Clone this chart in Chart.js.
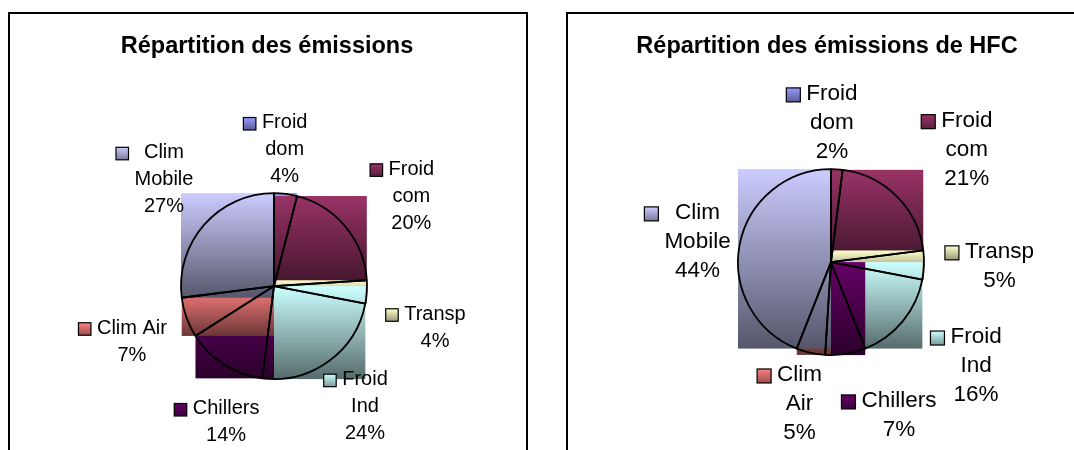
<!DOCTYPE html>
<html><head><meta charset="utf-8">
<script src="https://cdn.jsdelivr.net/npm/chart.js@4.4.1/dist/chart.umd.min.js"></script>
<style>
html,body{margin:0;padding:0;background:#fff;width:1074px;height:450px;overflow:hidden;position:relative;}
.frame{position:absolute;border:2px solid #000;box-sizing:border-box;}
#f1{left:8px;top:12px;width:520px;height:460px;}
#f2{left:566px;top:12px;width:520px;height:460px;}
canvas{position:absolute;}
#c1{left:10px;top:14px;}
#c2{left:568px;top:14px;}
</style></head><body>
<div class="frame" id="f1"></div><div class="frame" id="f2"></div>
<canvas id="c1" width="516" height="436"></canvas>
<canvas id="c2" width="506" height="436"></canvas>
<script>
// ---- data ----
const categories = ['Froid dom','Froid com','Transp','Froid Ind','Chillers','Clim Air','Clim Mobile'];
const emissionsAll = [4, 20, 4, 24, 14, 7, 27];
const emissionsHFC = [2, 21, 5, 16, 7, 5, 44];
const titleAll = 'Répartition des émissions';
const titleHFC = 'Répartition des émissions de HFC';

// ---- styles ----
const sliceColors = ['#9999FF','#993366','#FFFFCC','#CCFFFF','#660066','#FF8080','#CCCCFF'];
// label layout tweaks (pixels, relative to the automatic outside placement)
const labelNudgeAll = [[-16,10],[21,4],[5,33],[0,1],[23,23],[-9,10],[-10,-9]];
const labelNudgeHFC = [[-18,11],[25,-6],[7,0],[17,8],[25,19],[6,-5],[4,8]];

const FONT = '"Liberation Sans", Arial, sans-serif';

function shade(hex, f){
  const n = parseInt(hex.slice(1),16);
  const r=(n>>16)&255, g=(n>>8)&255, b=n&255;
  return 'rgb('+Math.round(r*f)+','+Math.round(g*f)+','+Math.round(b*f)+')';
}
function arcBBox(arc){
  const p = arc.getProps(['x','y','startAngle','endAngle','outerRadius'], true);
  const r = p.outerRadius;
  const pts = [[p.x,p.y],
    [p.x+r*Math.cos(p.startAngle), p.y+r*Math.sin(p.startAngle)],
    [p.x+r*Math.cos(p.endAngle), p.y+r*Math.sin(p.endAngle)]];
  for (let k=-4;k<=8;k++){
    const t = k*Math.PI/2;
    if (t>p.startAngle && t<p.endAngle) pts.push([p.x+r*Math.cos(t), p.y+r*Math.sin(t)]);
  }
  const xs = pts.map(q=>q[0]), ys = pts.map(q=>q[1]);
  return {x0:Math.min(...xs), x1:Math.max(...xs), y0:Math.min(...ys), y1:Math.max(...ys)};
}
const titleShift = {
  id:'titleShift',
  afterLayout(chart, args, o){
    const t = chart.titleBlock;
    if (t && o.dx){ t.left += o.dx; t.right += o.dx; }
  }
};
const bboxFill = {
  id:'bboxFill',
  beforeDatasetsDraw(chart, args, o){
    const ctx = chart.ctx;
    const meta = chart.getDatasetMeta(0);
    ctx.save();
    meta.data.forEach((arc,i)=>{
      const b = arcBBox(arc);
      const g = ctx.createLinearGradient(0,b.y0,0,b.y1);
      g.addColorStop(0, o.colors[i]);
      g.addColorStop(1, shade(o.colors[i], 0.42));
      ctx.fillStyle = g;
      ctx.fillRect(b.x0, b.y0, b.x1-b.x0, b.y1-b.y0);
    });
    ctx.restore();
  }
};
function wrap(ctx, text, maxW){
  const words = text.split(' '); const lines=[]; let cur='';
  for (const w of words){
    const t = cur ? cur+' '+w : w;
    if (cur && ctx.measureText(t).width > maxW){ lines.push(cur); cur = w; } else cur = t;
  }
  if (cur) lines.push(cur);
  return lines;
}
const outLabels = {
  id:'outLabels',
  afterDatasetsDraw(chart, args, o){
    const ctx = chart.ctx;
    const meta = chart.getDatasetMeta(0);
    const ds = chart.data.datasets[0];
    const total = ds.data.reduce((a,b)=>a+b,0);
    ctx.save();
    ctx.font = o.fontSize+'px '+FONT;
    const boxes = meta.data.map((arc,i)=>{
      const p = arc.getProps(['x','y','startAngle','endAngle','outerRadius'], true);
      const mid = (p.startAngle+p.endAngle)/2;
      const ux = Math.cos(mid), uy = Math.sin(mid);
      const lines = wrap(ctx, chart.data.labels[i], o.wrapWidth);
      lines.push(Math.round(ds.data[i]/total*100)+'%');
      const tw = Math.max(...lines.map(l=>ctx.measureText(l).width));
      const w = o.keySize+o.gap+tw, h = lines.length*o.lineHeight;
      const R = p.outerRadius + o.offset;
      return {lines, tw, w, h, cx:p.x+ux*R+ux*w/2, cy:p.y+uy*R+uy*h/2, i};
    });
    for (let it=0; it<6; it++){
      for (let a=0;a<boxes.length;a++) for (let b=a+1;b<boxes.length;b++){
        const A=boxes[a], B=boxes[b];
        const ox = (A.w+B.w)/2 - Math.abs(A.cx-B.cx);
        const oy = (A.h+B.h)/2 - Math.abs(A.cy-B.cy);
        if (ox>0 && oy>0){
          if (ox<oy){ const s=(ox/2+1)*(A.cx<B.cx?-1:1); A.cx+=s; B.cx-=s; }
          else { const s=(oy/2+1)*(A.cy<B.cy?-1:1); A.cy+=s; B.cy-=s; }
        }
      }
    }
    ctx.textBaseline = 'middle';
    ctx.textAlign = 'center';
    boxes.forEach(bx=>{
      const nd = (o.nudge && o.nudge[bx.i]) || [0,0];
      const left = bx.cx - bx.w/2 + nd[0], top = bx.cy - bx.h/2 + nd[1];
      const ky = top + o.lineHeight/2 - o.keySize/2 + 1;
      const g = ctx.createLinearGradient(0, ky, 0, ky+o.keySize);
      const col = o.colors[bx.i];
      g.addColorStop(0, col); g.addColorStop(1, shade(col, 0.6));
      ctx.fillStyle = g;
      ctx.fillRect(left, ky, o.keySize, o.keySize);
      ctx.strokeStyle = '#000'; ctx.lineWidth = 1.2;
      ctx.strokeRect(left, ky, o.keySize, o.keySize);
      ctx.fillStyle = '#000';
      const tx = left + o.keySize + o.gap + bx.tw/2;
      bx.lines.forEach((l,k)=>{
        ctx.fillText(l, tx, top + (k+0.5)*o.lineHeight);
      });
    });
    ctx.restore();
  }
};

function makePie(id, values, title, pad, titlePadBottom, titleDx, labelOpts){
  new Chart(document.getElementById(id), {
    type:'pie',
    data:{ labels: categories, datasets:[{ data: values,
      backgroundColor:'rgba(0,0,0,0)', borderColor:'#000', borderWidth:1.8 }]},
    options:{
      responsive:false, animation:false, events:[],
      radius: 93,
      layout:{ padding: pad },
      plugins:{
        legend:{display:false}, tooltip:{enabled:false},
        title:{ display:true, text:title, color:'#000',
          font:{family:FONT, size:23.5, weight:'bold', lineHeight:1.2},
          padding:{top:18.5, bottom:titlePadBottom} },
        titleShift:{ dx: titleDx },
        bboxFill:{ colors: sliceColors },
        outLabels: Object.assign({ colors: sliceColors }, labelOpts)
      }
    },
    plugins:[titleShift, bboxFill, outLabels]
  });
}
makePie('c1', emissionsAll, titleAll, {left:12, right:0, top:0, bottom:0}, 61.5, -7,
  {fontSize:20, lineHeight:27, keySize:12.5, gap:6, wrapWidth:77, offset:14, nudge:labelNudgeAll});
makePie('c2', emissionsHFC, titleHFC, {left:20, right:0, top:0, bottom:0}, 13.5, -4,
  {fontSize:22.5, lineHeight:29, keySize:14, gap:6, wrapWidth:77, offset:14, nudge:labelNudgeHFC});
</script>
</body></html>
